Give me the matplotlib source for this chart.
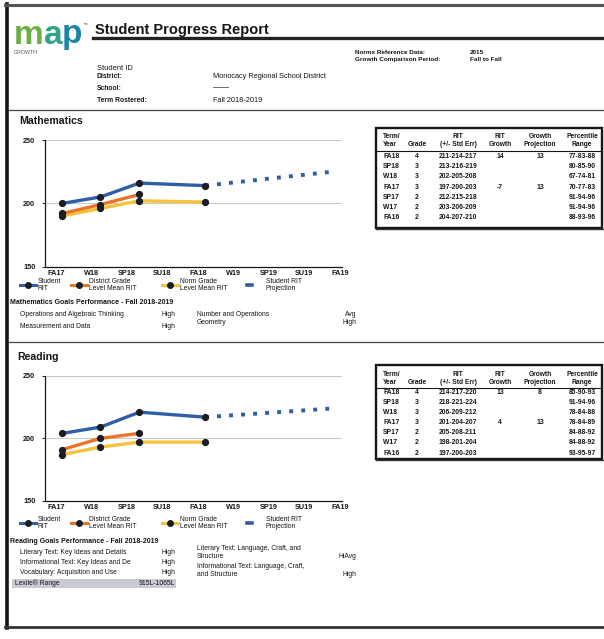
import matplotlib
matplotlib.use("Agg")
import matplotlib.pyplot as plt
from matplotlib.lines import Line2D
from matplotlib.patches import Rectangle

plt.rcParams['font.family'] = ['Liberation Sans', 'DejaVu Sans']

W, H = 604, 639

def fx(px):
    return px / W

def fy(py):
    return 1 - py / H

# ---- data ----
terms = ['FA17', 'W18', 'SP18', 'SU18', 'FA18', 'W19', 'SP19', 'SU19', 'FA19']
test_pos = [0.18, 1.25, 2.35, 4.2]      # when the tests were taken (term index)
proj_pos = [4.2, 7.8]

math_student = [200, 205, 216, 214]
math_district = [192, 199, 207]
math_norm = [190, 196, 202, 201]
math_proj = [214, 225]

read_student = [204, 209, 221, 217]
read_district = [191, 200, 204]
read_norm = [187, 193, 197, 197]
read_proj = [217, 224]

table_terms = ['FA18', 'SP18', 'W18', 'FA17', 'SP17', 'W17', 'FA16']
table_grades = ['4', '3', '3', '3', '2', '2', '2']
math_rit = ['211-214-217', '213-216-219', '202-205-208', '197-200-203',
            '212-215-218', '203-206-209', '204-207-210']
math_growth = ['14', '', '', '-7', '', '', '']
math_growth_proj = ['13', '', '', '13', '', '', '']
math_pct = ['77-83-88', '80-85-90', '67-74-81', '70-77-83',
            '91-94-96', '91-94-96', '88-93-96']
read_rit = ['214-217-220', '218-221-224', '206-209-212', '201-204-207',
            '205-208-211', '198-201-204', '197-200-203']
read_growth = ['13', '', '', '4', '', '', '']
read_growth_proj = ['8', '', '', '13', '', '', '']
read_pct = ['85-90-93', '91-94-96', '78-84-88', '78-84-89',
            '84-88-92', '84-88-92', '93-95-97']

math_goals_left = [('Operations and Algebraic Thinking', 'High'),
                   ('Measurement and Data', 'High')]
math_goals_right = [('Number and Operations', 'Avg'), ('Geometry', 'High')]
read_goals_left = [('Literary Text: Key Ideas and Details', 'High'),
                   ('Informational Text: Key Ideas and De', 'High'),
                   ('Vocabulary: Acquisition and Use', 'High')]
read_goals_right = [('Literary Text: Language, Craft, and\nStructure', 'HiAvg'),
                    ('Informational Text: Language, Craft,\nand Structure', 'High')]
lexile = '915L-1065L'

BLUE = '#2d5ea6'
ORANGE = '#e8752c'
YELLOW = '#f4c33c'
DOT = '#1c1c24'
INK = '#161616'

fig = plt.figure(figsize=(W / 100, H / 100), dpi=100)
fig.patch.set_facecolor('white')

def hline(y, x0, x1, lw=1.0, color=INK):
    fig.add_artist(Line2D([fx(x0), fx(x1)], [fy(y), fy(y)], color=color, lw=lw))

def vline(x, y0, y1, lw=1.0, color=INK):
    fig.add_artist(Line2D([fx(x), fx(x)], [fy(y0), fy(y1)], color=color, lw=lw))

def txt(x, y, s, size=4.8, weight='normal', ha='left', **kw):
    fig.text(fx(x), fy(y), s, fontsize=size, fontweight=weight, ha=ha,
             va='center', color=kw.pop('color', INK), **kw)

# ---- page frame ----
vline(6.5, 4, 628, lw=2.6)
hline(5, 5, 604, lw=2.2, color='#555555')
hline(627, 5, 604, lw=2.0, color='#333333')
vline(603.5, 5, 627, lw=0.6, color='#aaaaaa')
hline(110, 8, 604, lw=0.9, color='#444444')
hline(342, 8, 604, lw=0.9, color='#444444')

# ---- header ----
txt(14, 35, 'm', size=24, weight='bold', color='#6aaf45')
txt(43.6, 35, 'a', size=24, weight='bold', color='#2fa48a')
txt(62, 35, 'p', size=24, weight='bold', color='#1c86a8')
txt(83, 24, '™', size=3.5, color='#444444')
txt(14, 53, 'GROWTH', size=3.8, color='#555555')
txt(95, 30, 'Student Progress Report', size=10.5, weight='bold')
hline(38, 93, 604, lw=2.4, color='#222222')

txt(355, 52, 'Norms Reference Data:', size=4.6, weight='bold')
txt(355, 59.5, 'Growth Comparison Period:', size=4.6, weight='bold')
txt(470, 52, '2015', size=4.6, weight='bold')
txt(470, 59.5, 'Fall to Fall', size=4.6, weight='bold')

txt(97, 69, 'Student ID', size=5.4)
txt(97, 77, 'District:', size=4.9, weight='bold')
txt(97, 88, 'School:', size=4.9, weight='bold')
txt(97, 101, 'Term Rostered:', size=4.9, weight='bold')
txt(213, 77, 'Monocacy Regional School District', size=5.3)
hline(87, 213, 228, lw=0.6, color='#555555')
txt(213, 101, 'Fall 2018-2019', size=5.3)


def draw_chart(top, bottom, student, district, norm, proj):
    left, right = 45, 342
    ax = fig.add_axes([fx(left), fy(bottom), fx(right) - fx(left), fy(top) - fy(bottom)])
    ax.axhline(200, color='#c9c9c9', lw=0.8, zorder=1)
    ax.axhline(250, color='#c9c9c9', lw=0.8, zorder=1)
    ax.plot(test_pos[:len(norm)], norm, color=YELLOW, lw=2.4, marker='o', ms=4.2,
            mfc=DOT, mec=DOT, zorder=3)
    ax.plot(test_pos[:len(district)], district, color=ORANGE, lw=2.4, marker='o', ms=4.2,
            mfc=DOT, mec=DOT, zorder=4)
    ax.plot(proj_pos, proj, color=BLUE, lw=2.8, ls=(0, (1, 2.1)), zorder=4)
    ax.plot(test_pos, student, color=BLUE, lw=2.4, marker='o', ms=4.2,
            mfc=DOT, mec=DOT, zorder=5)
    ax.set_xlim(-0.31, 8.06)
    ax.set_ylim(150, 250)
    ax.set_yticks([150, 200, 250])
    ax.set_xticks(range(len(terms)), terms)
    for s in ('top', 'right'):
        ax.spines[s].set_visible(False)
    for s in ('left', 'bottom'):
        ax.spines[s].set_color(INK)
        ax.spines[s].set_linewidth(0.9)
    ax.tick_params(axis='x', length=0, labelsize=5.2, pad=2.5, labelcolor=INK)
    ax.tick_params(axis='y', length=2, width=0.6, labelsize=5.2, pad=5, labelcolor=INK)
    for lab in ax.get_xticklabels() + ax.get_yticklabels():
        lab.set_fontweight('bold')
    ax.set_facecolor('none')
    return ax


def legend_row(y):
    items = [(28, BLUE, 'Student\nRIT'), (79, ORANGE, 'District Grade\nLevel Mean RIT'),
             (170, YELLOW, 'Norm Grade\nLevel Mean RIT')]
    for x, c, lab in items:
        fig.add_artist(Line2D([fx(x - 8), fx(x + 8)], [fy(y), fy(y)], color=c, lw=2.2))
        fig.add_artist(Line2D([fx(x)], [fy(y)], marker='o', ms=4, mfc=DOT, mec=DOT, ls=''))
        txt(x + 10, y, lab, size=4.9, linespacing=1.0)
    fig.add_artist(Line2D([fx(247), fx(252)], [fy(y), fy(y)], color=BLUE, lw=2.6))
    txt(266, y, 'Student RIT\nProjection', size=4.9, linespacing=1.0)


def draw_table(top, bottom, first_row, rit, growth, gproj, pct):
    left, right = 376, 602
    fig.add_artist(Rectangle((fx(left), fy(bottom)), fx(right) - fx(left), fy(top) - fy(bottom),
                             fill=False, ec=INK, lw=1.7, transform=fig.transFigure))
    hline(bottom + 1.2, left, right + 1.2, lw=1.0, color='#333333')
    h1, h2 = top + 9, top + 17
    cols = [383, 417, 458, 500, 540, 582]
    hs = 4.8
    txt(cols[0], h1, 'Term/', size=hs, weight='bold')
    txt(cols[0], h2, 'Year', size=hs, weight='bold')
    txt(cols[1], h2, 'Grade', size=hs, weight='bold', ha='center')
    for c, a, b in [(cols[2], 'RIT', '(+/- Std Err)'), (cols[3], 'RIT', 'Growth'),
                    (cols[4], 'Growth', 'Projection'), (cols[5], 'Percentile', 'Range')]:
        txt(c, h1, a, size=hs, weight='bold', ha='center')
        txt(c, h2, b, size=hs, weight='bold', ha='center')
    hline(top + 22.5, left, right, lw=0.8)
    rs = 4.9
    for i in range(len(table_terms)):
        y = first_row + i * 10.2
        txt(cols[0], y, table_terms[i], size=rs, weight='bold')
        txt(cols[1], y, table_grades[i], size=rs, weight='bold', ha='center')
        txt(cols[2], y, rit[i], size=rs, weight='bold', ha='center')
        txt(cols[3], y, growth[i], size=rs, weight='bold', ha='center')
        txt(cols[4], y, gproj[i], size=rs, weight='bold', ha='center')
        txt(cols[5], y, pct[i], size=rs, weight='bold', ha='center')


GS = 4.9

def draw_goals(y_title, title, left_rows, y0, step):
    txt(9.5, y_title, title, size=5.0, weight='bold')
    for i, (name, lvl) in enumerate(left_rows):
        y = y0 + i * step
        txt(20, y, name, size=GS)
        txt(175, y, lvl, size=GS, ha='right')


# ---- Mathematics ----
txt(19, 121, 'Mathematics', size=7.6, weight='bold')
draw_chart(140, 266.7, math_student, math_district, math_norm, math_proj)
legend_row(285)
draw_table(128, 228, 156.5, math_rit, math_growth, math_growth_proj, math_pct)
draw_goals(303, 'Mathematics Goals Performance - Fall 2018-2019',
           math_goals_left, 315, 11.5)
for i, (name, lvl) in enumerate(math_goals_right):
    txt(197, 315 + i * 7.5, name, size=GS)
    txt(356, 315 + i * 7.5, lvl, size=GS, ha='right')

# ---- Reading ----
txt(17, 357, 'Reading', size=7.6, weight='bold')
draw_chart(376, 500.7, read_student, read_district, read_norm, read_proj)
legend_row(523)
draw_table(365, 459, 392, read_rit, read_growth, read_growth_proj, read_pct)
draw_goals(541.5, 'Reading Goals Performance - Fall 2018-2019',
           read_goals_left, 552, 10.5)
for i, (name, lvl) in enumerate(read_goals_right):
    y = 552.5 + i * 18
    txt(197, y, name, size=GS, linespacing=1.0)
    txt(356, y + 4.5, lvl, size=GS, ha='right')
fig.add_artist(Rectangle((fx(12), fy(587.5)), fx(176) - fx(12), fy(579) - fy(587.5),
                         fc='#c9cbd3', ec='none', transform=fig.transFigure))
txt(15, 583.2, 'Lexile® Range', size=GS)
txt(175, 583.2, lexile, size=GS, ha='right')

fig.savefig('out.png', dpi=100)
